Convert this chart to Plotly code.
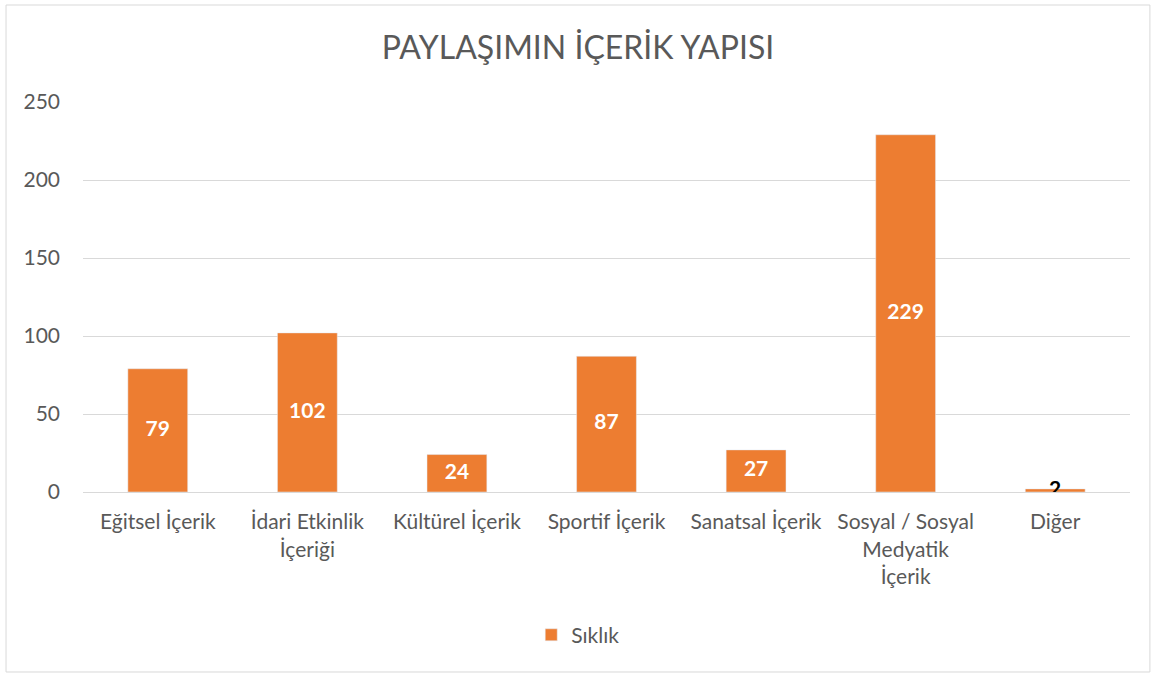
import plotly.graph_objects as go

categories = ["Eğitsel İçerik", "İdari Etkinlik<br>İçeriği", "Kültürel İçerik", "Sportif İçerik",
              "Sanatsal İçerik", "Sosyal / Sosyal<br>Medyatik<br>İçerik", "Diğer"]
values = [79, 102, 24, 87, 27, 229, 2]
series_name = "Sıklık"
label_colors = ["white"] * 6 + ["black"]

ORANGE = "#ED7D31"
FONT = "Lato"
GREY = "#595959"

fig = go.Figure()
fig.add_trace(go.Bar(x=categories, y=values, name=series_name, marker_color=ORANGE,
                     hoverinfo="x+y"))
fig.add_trace(go.Scatter(x=categories, y=[v / 2 for v in values], mode="text",
                         text=[str(v) for v in values],
                         textfont=dict(family=FONT, size=21, color=label_colors, weight="bold"),
                         showlegend=False, hoverinfo="skip"))

fig.update_layout(
    width=1156, height=675,
    margin=dict(l=83, r=26, t=102, b=183),
    paper_bgcolor="white", plot_bgcolor="white",
    bargap=0.6,
    title=dict(text="PAYLAŞIMIN İÇERİK YAPISI", x=0.5, xanchor="center", y=0.929, yanchor="middle",
               font=dict(family=FONT, size=32, color=GREY)),
    font=dict(family=FONT, size=21, color=GREY),
    legend=dict(orientation="h", x=0.473, xanchor="center", y=-0.367, yanchor="middle",
                font=dict(family=FONT, size=21, color=GREY)),
    xaxis=dict(showgrid=False, showline=True, linecolor="#D9D9D9", linewidth=1,
               tickfont=dict(family=FONT, size=21, color=GREY), ticks="", ticklabelstandoff=11),
    yaxis=dict(range=[0, 250], dtick=50, showgrid=True, gridcolor="#D9D9D9", gridwidth=1,
               zeroline=False, ticks="", ticklen=0, ticklabelstandoff=22,
               tickfont=dict(family=FONT, size=21, color=GREY)),
    shapes=[dict(type="rect", xref="paper", yref="paper", x0=-0.0735, x1=1.019, y0=-0.4615, y1=1.2487,
                 line=dict(color="#D9D9D9", width=1), layer="below")],
)

fig.write_html("out.html", config={"displayModeBar": False},
               post_script="document.body.style.margin='0';")
